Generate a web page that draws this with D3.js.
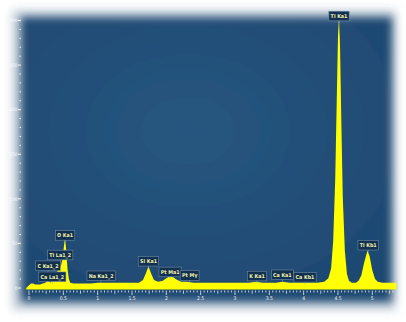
<!DOCTYPE html>
<html>
<head>
<meta charset="utf-8">
<script src="https://cdn.jsdelivr.net/npm/d3@7"></script>
<style>
  body { margin: 0; background: #fff; }
  svg { display: block; }
</style>
</head>
<body>
<svg id="chart"></svg>
<script>
// spectrum (keV, counts)
const energy = [-0.04, 0.00, 0.03, 0.06, 0.09, 0.12, 0.16, 0.20, 0.24, 0.27, 0.29, 0.31, 0.33, 0.36, 0.39, 0.42,
  0.45, 0.47, 0.49, 0.51, 0.525, 0.54, 0.56, 0.58, 0.60, 0.65, 0.80, 0.90, 1.00, 1.04, 1.10, 1.30, 1.50, 1.60,
  1.66, 1.70, 1.74, 1.78, 1.82, 1.88, 1.95, 2.00, 2.05, 2.10, 2.16, 2.22, 2.30, 2.40, 2.60, 2.80, 3.00, 3.20,
  3.31, 3.40, 3.60, 3.69, 3.80, 4.01, 4.20, 4.30, 4.36, 4.40, 4.43, 4.46, 4.48, 4.50, 4.515, 4.53, 4.55, 4.57,
  4.60, 4.63, 4.66, 4.70, 4.76, 4.80, 4.84, 4.88, 4.93, 4.96, 5.00, 5.04, 5.08, 5.15, 5.35];
const counts = [0, 3, 5, 5, 4, 4, 4, 5, 6, 9, 8, 6, 8, 11, 15, 20,
  23, 26, 34, 48, 56, 44, 22, 10, 6, 5, 5, 5, 6, 6, 6, 6, 6, 6,
  9, 16, 24, 16, 9, 7, 8, 11, 13, 12, 9, 7, 7, 6, 6, 6, 6, 6,
  7, 6, 6, 7, 6, 6, 6, 7, 11, 22, 52, 122, 202, 282, 304, 272, 182, 102,
  42, 16, 8, 6, 6, 8, 14, 28, 42, 36, 20, 10, 7, 6, 6];

// peak labels: name, energy (keV), level of the label (counts)
const peakNames = ['Ti Ka1', 'O Ka1', 'Ti La1_2', 'C Ka1_2', 'Ca La1_2', 'Na Ka1_2', 'Si Ka1', 'Pt Ma1', 'Pt Mγ',
  'K Ka1', 'Ca Ka1', 'Ca Kb1', 'Ti Kb1'];
const peakEnergy = [4.515, 0.525, 0.455, 0.277, 0.34, 1.05, 1.74, 2.055, 2.34, 3.32, 3.69, 4.02, 4.94];
const peakLevel = [305, 59, 37, 25, 12.6, 13.7, 30, 18, 14, 13.4, 14.8, 12, 48];

const xTicks = [0, 0.5, 1, 1.5, 2, 2.5, 3, 3.5, 4, 4.5, 5];
const yTicks = [0, 50, 100, 150, 200, 250, 300];

const W = 406, H = 322;
const svg = d3.select('#chart').attr('width', W).attr('height', H);

const defs = svg.append('defs');
defs.append('filter').attr('id', 'soft')
  .attr('x', '-10%').attr('y', '-10%').attr('width', '120%').attr('height', '120%')
  .append('feGaussianBlur').attr('stdDeviation', 4);
defs.append('filter').attr('id', 'halo')
  .attr('x', '-10%').attr('y', '-10%').attr('width', '120%').attr('height', '120%')
  .append('feGaussianBlur').attr('stdDeviation', 5);
const grad = defs.append('radialGradient').attr('id', 'bg')
  .attr('cx', '45%').attr('cy', '40%').attr('r', '70%');
grad.append('stop').attr('offset', '0%').attr('stop-color', '#27567f');
grad.append('stop').attr('offset', '100%').attr('stop-color', '#1e4871');

// panel with soft white edges
svg.append('rect')
  .attr('x', 12).attr('y', 10).attr('width', 384).attr('height', 300)
  .attr('fill', '#c9d2db')
  .attr('filter', 'url(#halo)');
svg.append('rect')
  .attr('x', 21).attr('y', 17).attr('width', 371).attr('height', 285)
  .attr('fill', 'url(#bg)')
  .attr('filter', 'url(#soft)');

const x = d3.scaleLinear().domain([0, 5]).range([29, 372.3]);
const y = d3.scaleLinear().domain([0, 300]).range([288, 20.5]);

const data = energy.map((e, i) => ({e: e, c: counts[i]}));

const area = d3.area()
  .x(d => x(d.e))
  .y0(y(0) + 1.5)
  .y1(d => y(d.c));

svg.append('path')
  .datum(data)
  .attr('fill', '#ffff00')
  .attr('d', area);

// x axis ticks
const xg = svg.append('g').attr('stroke', '#e8eef4').attr('stroke-width', 0.8);
d3.range(0, 107).map(i => i * 0.05).filter(v => x(v) < 396).forEach(v => {
  const r = Math.round(v * 100);
  const len = r % 50 === 0 ? 4.5 : (r % 25 === 0 ? 3.2 : 2);
  xg.append('line')
    .attr('x1', x(v)).attr('x2', x(v))
    .attr('y1', y(0) + 2.5).attr('y2', y(0) + 2.5 + len);
});
svg.append('g').selectAll('text')
  .data(xTicks)
  .enter()
  .append('text')
  .attr('x', d => x(d))
  .attr('y', y(0) + 11.5)
  .attr('text-anchor', 'middle')
  .attr('fill', '#e8eef4')
  .style('font-family', 'DejaVu Sans Condensed, DejaVu Sans')
  .style('font-size', '5px')
  .text(d => d);

// y axis ticks
const yg = svg.append('g').attr('stroke', '#ffffff').attr('stroke-width', 0.9);
d3.range(0, 31).map(i => i * 10).forEach(v => {
  const major = v % 50 === 0;
  yg.append('line')
    .attr('x1', major ? 18 : 19.5).attr('x2', 21)
    .attr('y1', y(v)).attr('y2', y(v));
});
svg.append('g').selectAll('text')
  .data(yTicks)
  .enter()
  .append('text')
  .attr('x', 17.5)
  .attr('y', d => y(d) + 1.7)
  .attr('text-anchor', 'end')
  .attr('fill', '#ffffff')
  .style('font-family', 'DejaVu Sans Condensed, DejaVu Sans')
  .style('font-size', '4.8px')
  .text(d => d);

// peak labels
const lab = svg.append('g').selectAll('g')
  .data(peakNames.map((n, i) => ({name: n, e: peakEnergy[i], lvl: peakLevel[i]})))
  .enter()
  .append('g')
  .attr('transform', d => `translate(${x(d.e)}, ${y(d.lvl)})`);

lab.append('text')
  .attr('text-anchor', 'middle')
  .attr('y', 1.9)
  .attr('fill', '#f4f4b0')
  .style('font-family', 'DejaVu Sans Condensed, DejaVu Sans')
  .style('font-weight', 'bold')
  .style('font-size', '5.3px')
  .text(d => d.name)
  .each(function(d) { d.w = this.getComputedTextLength() + 3.5; });

lab.insert('rect', 'text')
  .attr('x', d => -d.w / 2)
  .attr('y', -4.8)
  .attr('width', d => d.w)
  .attr('height', 9.6)
  .attr('fill', '#12304f')
  .attr('stroke', '#6f8ca6')
  .attr('stroke-width', 0.6);

lab.append('line')
  .attr('x1', 0).attr('x2', 0)
  .attr('y1', 4.8).attr('y2', 7)
  .attr('stroke', '#8ea6bb')
  .attr('stroke-width', 0.6);
</script>
</body>
</html>
